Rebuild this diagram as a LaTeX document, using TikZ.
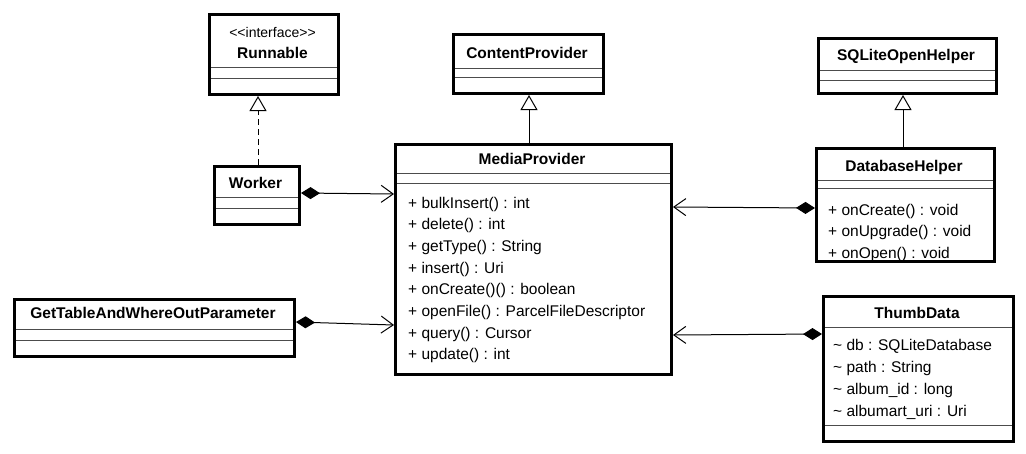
\documentclass[tikz,border=0pt]{standalone}
\usepackage{fontspec}
\setmainfont{Liberation Sans}[Ligatures=NoCommon]
\usetikzlibrary{arrows.meta}
\begin{document}
\begin{tikzpicture}[x=1pt,y=-1pt,
  cls/.style={draw, line width=3pt, inner sep=0pt, anchor=north west, fill=white},
  sep/.style={line width=1pt, black!70, shorten <=3pt, shorten >=3pt},
  nm/.style={font=\bfseries\fontsize{15.5}{18}\selectfont, anchor=base, inner sep=0pt},
  stereo/.style={font=\fontsize{14}{16}\selectfont, anchor=base, inner sep=0pt},
  mem/.style={font=\fontsize{15.5}{18}\selectfont, anchor=base west, inner sep=0pt},
  conn/.style={line width=1pt},
  comp/.style={conn, {Diamond[length=19pt,width=12pt]}-{Straight Barb[length=12pt,width=17pt,line width=1pt]}},
  gen/.style={conn, -{Triangle[open,length=15pt,width=17pt,fill=white,line width=1pt]}},
  real/.style={gen, dash pattern=on 6pt off 4pt}
]
\fill[white] (0,0) rectangle (1026,453);
\useasboundingbox (0,0) rectangle (1026,453);

% class boxes
\node[cls, minimum width=129pt, minimum height=80pt] (run) at (208,13) {};
\node[cls, minimum width=85pt, minimum height=58pt] (wk) at (213,165) {};
\node[cls, minimum width=150pt, minimum height=59pt] (cp) at (452,33) {};
\node[cls, minimum width=276pt, minimum height=230pt] (mp) at (394,143) {};
\node[cls, minimum width=178pt, minimum height=55pt] (sq) at (817,37) {};
\node[cls, minimum width=178pt, minimum height=113pt] (db) at (815,147) {};
\node[cls, minimum width=280pt, minimum height=57pt] (gt) at (13,298) {};
\node[cls, minimum width=190pt, minimum height=145pt] (td) at (822,295) {};

% compartment separators
\foreach \b/\ya/\yb in {run/67/78, wk/197/208, cp/68/77, mp/173/183, sq/70/80, db/180/188, gt/329/340, td/327/425}{
  \draw[sep] (\b.west |- 0,\ya) -- (\b.east |- 0,\ya);
  \draw[sep] (\b.west |- 0,\yb) -- (\b.east |- 0,\yb);
}

% names
\node[stereo] (runst) at (272.5,37) {\textless{}\textless{}interface\textgreater{}\textgreater{}};
\node[nm] (runnm) at (272.5,58) {Runnable};
\node[nm] (wknm) at (255.5,188) {Worker};
\node[nm] (cpnm) at (527,58) {ContentProvider};
\node[nm] (mpnm) at (532,164) {MediaProvider};
\node[nm] (sqnm) at (906,60) {SQLiteOpenHelper};
\node[nm] (dbnm) at (904,171) {DatabaseHelper};
\node[nm] (gtnm) at (153,318) {GetTableAndWhereOutParameter};
\node[nm] (tdnm) at (917,318) {ThumbData};

% members
\foreach \t [count=\i] in {+ bulkInsert() : int, + delete() : int, + getType() : String, + insert() : Uri, + onCreate()() : boolean, + openFile() : ParcelFileDescriptor, + query() : Cursor, + update() : int}
  \node[mem] (mp\i) at (408,186.3+21.7*\i) {\t};
\foreach \t [count=\i] in {+ onCreate() : void, + onUpgrade() : void, + onOpen() : void}
  \node[mem] (db\i) at (828,193.5+21.5*\i) {\t};
\foreach \t [count=\i] in {\textasciitilde\ db : SQLiteDatabase, \textasciitilde\ path : String, \textasciitilde\ album\_id : long, \textasciitilde\ albumart\_uri : Uri}
  \node[mem] (td\i) at (833,328+22*\i) {\t};

% connectors
\draw[real] (wk.north -| 258,0) -- (run.south -| 258,0);
\draw[gen] (mp.north -| 529,0) -- (cp.south -| 529,0);
\draw[gen] (db.north -| 903,0) -- (sq.south -| 903,0);
\draw[comp] (wk.east |- 0,193) -- (mp.west |- 0,194);
\draw[comp] (gt.east |- 0,322) -- (mp.west |- 0,325);
\draw[comp] (db.west |- 0,208) -- (mp.east |- 0,207);
\draw[comp] (td.west |- 0,334) -- (mp.east |- 0,335);
\end{tikzpicture}
\end{document}
